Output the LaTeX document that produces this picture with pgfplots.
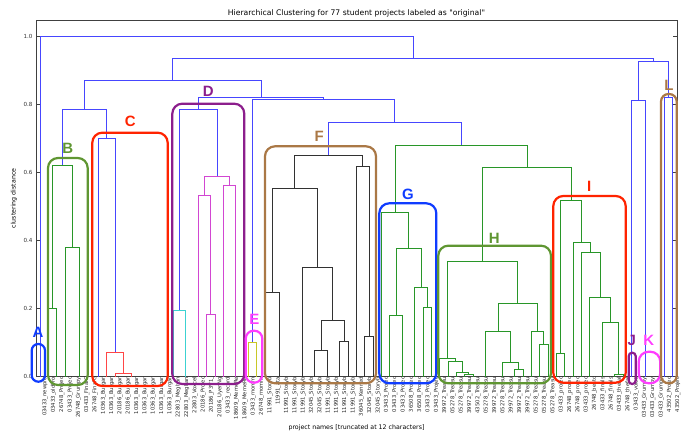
\documentclass[border=0pt]{standalone}
\usepackage{fontspec}
\setmainfont{DejaVu Sans}[Ligatures=TeXOff]
\newfontfamily\tagfont{Liberation Sans}
\usepackage{pgfplots}
\pgfplotsset{compat=1.18}

% dendrogram link colours (classic matplotlib cycle)
\definecolor{dB}{RGB}{70,70,255}
\definecolor{dG}{RGB}{40,150,40}
\definecolor{dR}{RGB}{255,70,70}
\definecolor{dC}{RGB}{60,210,210}
\definecolor{dM}{RGB}{210,70,210}
\definecolor{dY}{RGB}{200,200,40}
\definecolor{dK}{RGB}{50,50,50}
% group outline colours
\definecolor{aBlue}{RGB}{15,60,255}
\definecolor{aGreen}{RGB}{95,150,50}
\definecolor{aRed}{RGB}{255,35,0}
\definecolor{aPurple}{RGB}{140,30,140}
\definecolor{aPink}{RGB}{255,60,255}
\definecolor{aBrown}{RGB}{170,120,70}

% one merge: colour, left x, left child height, merge height, right x, right child height
\newcommand\lnk[6]{\addplot[#1] coordinates {(#2,#3) (#2,#4) (#5,#4) (#5,#6)};}
% outlined group: colour, left, top, right, bottom (measured downwards), corner radius
\newcommand\grp[6]{%
  \draw[#1, line width=2.2bp, rounded corners=#6bp] (#2,433-#5) rectangle (#4,433-#3);}
\newcommand\tag[4]{\node[text=#1, inner sep=0, font=\tagfont\bfseries\fontsize{15}{15}\selectfont] at (#2,433-#3) {#4};}

\begin{document}
\begin{tikzpicture}[x=1bp,y=1bp]
\path[use as bounding box] (0,0) rectangle (686,433);
\begin{axis}[
  at={(36bp,56.3bp)}, anchor=south west,
  scale only axis, width=641bp, height=356.4bp,
  xmin=0, xmax=770, ymin=0, ymax=1.048,
  axis line style={black!75, line width=0.6bp},
  tick align=inside, major tick length=4bp,
  tick style={black!75, line width=0.5bp},
  xtick={5,15,...,765},
  xtick style={draw=none},
  xticklabels={03433\_newpro,03433\_oldPro,26748\_Projec,03433\_Projec,26748\_Grumpy,03433\_FinalG,26748\_FinalG,
    10363\_Burgar,10363\_Burgar,20186\_Burgar,20186\_Burgar,10363\_Burgar,10363\_Burgar,10363\_Burgar,10363\_Burgar,10363\_Burgar,
    22803\_Meghan,22803\_Meghan,22803\_Voxcel,20186\_Projec,20186\_P3V1\_,20186\_UyenNg,03433\_record,18609\_MemeRe,18609\_MemeRe,
    03433\_rnomm,26748\_rnomm,
    11991\_Storyb,11991\_ata,11991\_Storyb,11991\_Storyb,11991\_Storyb,32045\_Storyb,32045\_Storyb,11991\_Storyb,11991\_Storyb,11991\_Storyb,11991\_Storyb,36045\_Kenned,32045\_Storyb,32045\_Storyb,
    03433\_Projec,03433\_Projec,03433\_Projec,36508\_Projec,36508\_Projec,03433\_Projec,03433\_Projec,
    39972\_Treasu,05278\_Treasu,05278\_Treasu,39972\_Treasu,43502\_Treasu,05278\_Treasu,39972\_Treasu,05278\_Treasu,39972\_Treasu,39972\_Treasu,39972\_Treasu,05278\_Treasu,05278\_Treasu,05278\_Treasu,
    03433\_projec,26748\_projec,26748\_projec,03433\_projec,26748\_bestc,03433\_finals,26748\_finals,03433\_thefal,26748\_thefal,
    03433\_voice,03433\_Grumpy,03433\_Grumpy,03433\_Grumpy,43502\_Projec,43502\_Projec},
  xticklabel style={rotate=90, anchor=east, inner sep=0pt, yshift=-5bp, text=black!85, font=\fontsize{5.3}{6}\selectfont},
  ytick={0,0.2,0.4,0.6,0.8,1.0},
  yticklabels={0.0,0.2,0.4,0.6,0.8,1.0},
  yticklabel style={font=\fontsize{5.6}{6}\selectfont, text=black!80},
  title={Hierarchical Clustering for 77 student projects labeled as "original"},
  title style={at={(axis description cs:0.5,1)}, anchor=south, inner sep=0pt, yshift=-2.5bp, font=\fontsize{7.7}{9}\selectfont},
  xlabel={project names [truncated at 12 characters]},
  xlabel style={at={(axis description cs:0.5,0)}, anchor=base, inner sep=0pt, yshift=-52.8bp, font=\fontsize{6.3}{7}\selectfont},
  ylabel={clustering distance},
  ylabel style={at={(axis description cs:-0.0343,0.5)}, anchor=center, inner sep=0pt, font=\fontsize{6.3}{7}\selectfont},
  every axis plot/.append style={mark=none, line width=0.8bp},
  clip=false,
]
% above the cut
\lnk{dB}{5}{0}{1.0}{453.11}{0.936}
\lnk{dB}{164.35}{0.87}{0.936}{741.88}{0.928}
\lnk{dB}{58.42}{0.787}{0.87}{270.27}{0.822}
\lnk{dB}{31.88}{0.62}{0.787}{84.96}{0.701}
\lnk{dB}{75}{0}{0.701}{94.92}{0.0706}
\lnk{dB}{195}{0.786}{0.822}{345.55}{0.815}
\lnk{dB}{172.5}{0.196}{0.786}{217.5}{0.588}
\lnk{dB}{260}{0.10}{0.815}{431.09}{0.749}
\lnk{dB}{351.72}{0.652}{0.749}{510.47}{0.681}
\lnk{dB}{723.75}{0.812}{0.928}{760}{0.822}
\lnk{dB}{715}{0}{0.812}{732.5}{0}
\lnk{dB}{755}{0}{0.822}{765}{0}
% group B
\lnk{dG}{20}{0.20}{0.62}{43.75}{0.38}
\lnk{dG}{15}{0}{0.20}{25}{0}
\lnk{dG}{35}{0}{0.38}{52.5}{0}
% group C
\lnk{dR}{85}{0}{0.0706}{104.84}{0.0088}
\lnk{dR}{95}{0}{0.0088}{114.69}{0}
% group D
\lnk{dC}{165}{0}{0.196}{180}{0}
\lnk{dM}{202.5}{0.533}{0.588}{232.5}{0.562}
\lnk{dM}{195}{0}{0.533}{210}{0.183}
\lnk{dM}{205}{0}{0.183}{215}{0}
\lnk{dM}{225}{0}{0.562}{240}{0}
% group E
\lnk{dY}{255}{0}{0.10}{265}{0}
% group F
\lnk{dK}{310.94}{0.554}{0.652}{392.5}{0.618}
\lnk{dK}{283.75}{0.249}{0.554}{338.13}{0.322}
\lnk{dK}{275}{0}{0.249}{292.5}{0}
\lnk{dK}{320}{0}{0.322}{356.25}{0.166}
\lnk{dK}{342.5}{0.077}{0.166}{370}{0.103}
\lnk{dK}{335}{0}{0.077}{350}{0}
\lnk{dK}{365}{0}{0.103}{375}{0}
\lnk{dK}{385}{0}{0.618}{400}{0.118}
\lnk{dK}{395}{0}{0.118}{405}{0}
% groups G, H, I
\lnk{dG}{431.25}{0.483}{0.681}{589.69}{0.616}
\lnk{dG}{415}{0}{0.483}{447.5}{0.378}
\lnk{dG}{432.5}{0.179}{0.378}{462.5}{0.263}
\lnk{dG}{425}{0}{0.179}{440}{0}
\lnk{dG}{455}{0}{0.263}{470}{0.203}
\lnk{dG}{465}{0}{0.203}{475}{0}
\lnk{dG}{536.56}{0.338}{0.616}{642.81}{0.519}
\lnk{dG}{494.38}{0.054}{0.338}{578.75}{0.216}
\lnk{dG}{485}{0}{0.054}{503.75}{0.044}
\lnk{dG}{495}{0}{0.044}{512.5}{0.013}
\lnk{dG}{505}{0}{0.013}{520}{0.006}
\lnk{dG}{515}{0}{0.006}{525}{0}
\lnk{dG}{555}{0.134}{0.216}{602.5}{0.134}
\lnk{dG}{540}{0}{0.134}{570}{0.042}
\lnk{dG}{560}{0}{0.042}{580}{0.022}
\lnk{dG}{575}{0}{0.022}{585}{0}
\lnk{dG}{595}{0}{0.134}{610}{0.096}
\lnk{dG}{605}{0}{0.096}{615}{0}
\lnk{dG}{630}{0.068}{0.519}{655.63}{0.395}
\lnk{dG}{625}{0}{0.068}{635}{0}
\lnk{dG}{645}{0}{0.395}{666.25}{0.366}
\lnk{dG}{655}{0}{0.366}{677.5}{0.232}
\lnk{dG}{665}{0}{0.232}{690}{0.16}
\lnk{dG}{680}{0}{0.16}{700}{0.006}
\lnk{dG}{695}{0}{0.006}{705}{0}
\end{axis}
% outlined groups
\grp{aBlue}{31.7}{344}{45}{381.7}{6.5}
\grp{aGreen}{48}{158}{87.7}{385}{10}
\grp{aRed}{92.3}{132.7}{167.7}{386}{10}
\grp{aPurple}{172.3}{103.7}{244.3}{384}{10}
\grp{aPink}{245.7}{330.7}{262.3}{382.7}{8}
\grp{aBrown}{265}{146.3}{376}{383.3}{10}
\grp{aBlue}{379.3}{203.3}{436.3}{383.3}{10}
\grp{aGreen}{438.3}{245.7}{551}{383.3}{10}
\grp{aRed}{553.3}{196}{625.7}{382.7}{10}
\grp{aPurple}{628.7}{352.7}{635.7}{384}{3.4}
\grp{aPink}{638.7}{351.7}{660.3}{383.3}{10}
\grp{aBrown}{661}{94}{676.7}{383.3}{7.5}
\tag{aBlue}{38}{332.7}{A}
\tag{aGreen}{67.7}{148}{B}
\tag{aRed}{130.3}{121}{C}
\tag{aPurple}{208.3}{91}{D}
\tag{aPink}{254.3}{319.2}{E}
\tag{aBrown}{319.3}{136}{F}
\tag{aBlue}{408}{194.2}{G}
\tag{aGreen}{494.3}{238.4}{H}
\tag{aRed}{589.3}{186}{I}
\tag{aPurple}{631.7}{340.3}{J}
\tag{aPink}{648.7}{340.3}{K}
\tag{aBrown}{669}{85.4}{L}
\end{tikzpicture}
\end{document}
